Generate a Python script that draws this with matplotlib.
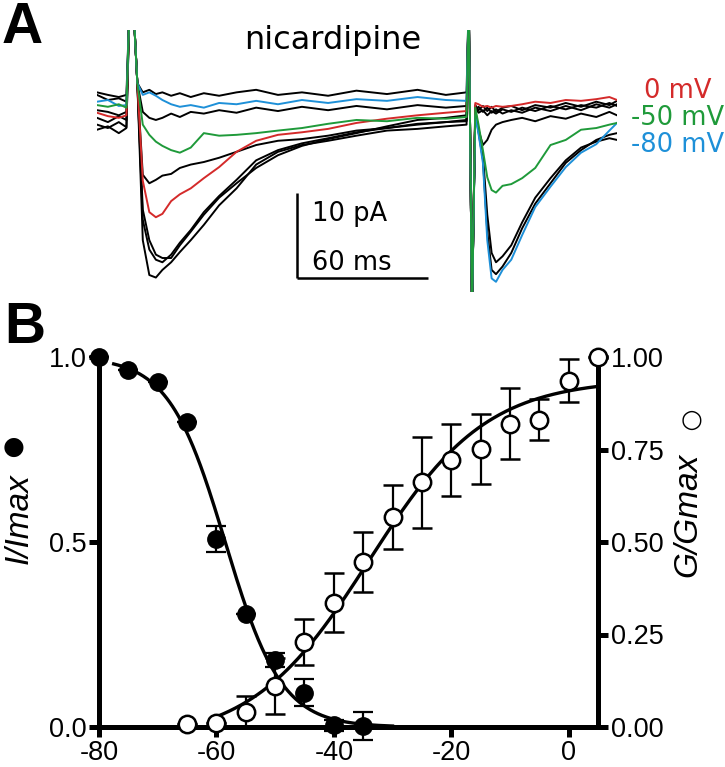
import matplotlib
matplotlib.use("Agg")
import matplotlib.pyplot as plt
import numpy as np

W, H = 725, 767
plt.rcParams['font.family'] = ['DejaVu Sans']
plt.rcParams['axes.unicode_minus'] = False
ARIAL = ['Liberation Sans', 'DejaVu Sans']

# ---------------- Panel A data (time in ms, current in pA) ----------------
T_READ = [0, 5, 10, 13.5,
          21, 24, 27, 30, 34, 38, 43, 49, 56, 64, 73, 83, 94, 106, 119, 133, 147, 160, 169.5,
          173.5, 175, 177, 179, 181, 183, 186, 190, 195, 201, 208, 215, 222, 229, 235, 238.5]

I_M80 = [-0.2, 0.0, -0.7, -0.6,
         0.6, 0.9, 0.5, 0.0, -0.5, -0.8, -0.6, -0.9, -0.35, -0.5, -0.1, -0.5, 0.0, -0.35, 0.1, -0.1, 0.35, 0.0, -0.1,
         -1.8, -4.0, -7.4, -16.5, -21.0, -21.4, -20.0, -18.8, -15.9, -12.6, -10.2, -7.9, -6.2, -5.2, -3.6, -2.7]
I_M70 = [0.9, 0.6, 0.35, 0.6,
         0.9, 1.2, 0.7, 0.9, 0.5, 0.8, 0.35, 0.8, 0.5, 0.9, 1.2, 0.6, 0.9, 0.5, 1.1, 0.7, 1.2, 0.6, 0.9,
         -1.4, -3.8, -7.0, -15.5, -20.0, -20.5, -19.6, -18.0, -15.1, -12.2, -9.8, -7.4, -5.9, -4.7, -4.1, -3.9]
I_M60 = [-1.2, -1.4, -1.8, -1.4,
         -1.4, -2.1, -2.35, -2.1, -1.6, -2.0, -1.4, -1.6, -1.2, -1.5, -0.9, -1.3, -0.8, -1.2, -0.7, -1.1, -0.6, -0.9, -0.7,
         -1.2, -3.5, -6.5, -13.5, -18.0, -19.1, -18.4, -17.1, -14.4, -11.5, -9.2, -7.1, -5.6, -4.9, -4.5, -4.7]
I_M50 = [-0.6, -0.8, -0.5, -0.9,
         -2.9, -4.1, -4.9, -5.4, -5.9, -6.2, -5.6, -3.9, -4.2, -4.1, -3.9, -3.6, -3.3, -2.8, -2.35, -2.5, -2.1, -2.2, -2.0,
         -0.9, -2.9, -5.9, -9.1, -10.6, -10.9, -10.1, -9.9, -9.2, -8.0, -5.3, -4.7, -3.5, -3.3, -2.9, -2.7]
I_M40 = [-2.1, -2.6, -1.9, -2.35,
         -8.8, -9.8, -9.4, -8.9, -8.7, -8.0, -7.6, -7.3, -6.8, -6.1, -5.3, -4.8, -4.6, -4.2, -3.6, -3.3, -2.8, -2.6, -2.5,
         -1.4, -3.5, -5.3, -4.7, -3.5, -2.9, -2.6, -2.35, -2.1, -2.5, -1.9, -2.2, -1.6, -2.0, -1.4, -1.8]
I_M30 = [-2.9, -3.3, -2.6, -3.2,
         -14.1, -17.6, -18.8, -19.1, -18.2, -16.8, -15.3, -13.2, -11.3, -9.4, -7.1, -5.9, -5.1, -4.5, -3.8, -3.3, -2.9, -2.6, -2.35,
         -0.9, -1.5, -1.2, -1.8, -1.3, -1.6, -1.1, -1.4, -0.9, -1.3, -0.7, -1.1, -0.6, -0.9, -0.35, -0.7]
I_M20 = [-3.5, -3.1, -3.9, -3.3,
         -16.5, -20.6, -20.9, -20.0, -19.1, -17.9, -16.5, -14.7, -12.4, -10.4, -7.6, -6.1, -5.3, -4.8, -4.2, -3.6, -3.4, -3.1, -2.9,
         -1.2, -0.8, -1.4, -0.9, -1.5, -1.1, -1.6, -1.2, -1.5, -0.9, -1.3, -0.7, -1.2, -0.5, -0.9, -0.5]
I_M10 = [0.6, 0.0, 0.2, -0.2,
         -12.9, -16.5, -18.2, -18.6, -18.6, -17.1, -15.5, -13.5, -11.5, -9.8, -8.0, -6.5, -5.4, -4.6, -3.9, -3.1, -2.35, -2.1, -1.8,
         -0.6, -1.2, -0.7, -1.3, -0.8, -1.4, -0.9, -0.7, -1.2, -0.6, -0.9, -0.35, -0.8, -0.2, -0.6, -0.1]
I_0 = [-1.5, -1.9, -2.1, -1.8,
       -9.5, -13.2, -13.8, -13.4, -11.9, -11.1, -10.4, -9.2, -7.9, -6.1, -4.8, -4.1, -3.8, -3.4, -2.7, -2.2, -1.8, -1.5, -1.3,
       -0.35, -0.5, -0.8, -0.7, -0.9, -0.7, -0.8, -0.7, -0.5, -0.2, -0.35, 0.0, -0.1, 0.1, 0.35, 0.0]

# stimulus artifacts (go off scale)
ART1_T = [15.0, 16.5, 18.5]
ART1_I = [12.0, 12.0, 2.0]
ART2_T = [170.5, 172.0]
ART2_I = [12.0, -25.0]

BLACK_TRACES = [I_M70, I_M60, I_M40, I_M30, I_M20, I_M10]
RED, GREEN, BLUE = '#d42a2a', '#1f9a3a', '#1e90d8'
COLOR_TRACES = [(I_0, RED), (I_M80, BLUE), (I_M50, GREEN)]
LEGEND_LABELS = ['0 mV', '-50 mV', '-80 mV']
LEGEND_COLORS = [RED, GREEN, BLUE]

SCALE_T0, SCALE_I0 = 91.7, -20.9
SCALE_DT, SCALE_DI = 60.0, 10.0

# ---------------- Panel B data ----------------
V_INACT = [-80, -75, -70, -65, -60, -55, -50, -45, -40, -35]
INACT = [1.0, 0.965, 0.933, 0.825, 0.508, 0.305, 0.181, 0.093, 0.005, 0.003]
INACT_ERR = [0, 0, 0, 0, 0.035, 0, 0.018, 0.036, 0.015, 0.038]

V_ACT = [-65, -60, -55, -50, -45, -40, -35, -30, -25, -20, -15, -10, -5, 0, 5]
ACT = [0.008, 0.012, 0.041, 0.111, 0.23, 0.336, 0.445, 0.568, 0.661, 0.722, 0.751, 0.819, 0.831, 0.936, 1.0]
ACT_ERR = [0, 0, 0.044, 0.075, 0.063, 0.08, 0.081, 0.087, 0.124, 0.097, 0.095, 0.096, 0.055, 0.058, 0]

# Boltzmann fit parameters
INACT_VHALF, INACT_K, INACT_RANGE = -58.5, 4.8, (-77.5, -30.0)
ACT_VHALF, ACT_K, ACT_A, ACT_C, ACT_RANGE = -34.0, 10.0, 0.98, -0.04, (-60.0, 5.0)

X_TICKS = [-80, -60, -40, -20, 0]
YL_TICKS = [0.0, 0.5, 1.0]
YR_TICKS = [0.0, 0.25, 0.5, 0.75, 1.0]

# ---------------- figure ----------------
fig = plt.figure(figsize=(W / 100, H / 100), dpi=100)


def fpos(x, y):
    return x / W, 1 - y / H


def ftext(x, y, s, **kw):
    fx, fy = fpos(x, y)
    fig.text(fx, fy, s, **kw)


# Panel A axes
axA = fig.add_axes([97 / W, 1 - 292 / H, 520 / W, 262 / H])
axA.set_xlim(0, 238.5)
axA.set_ylim(-22.6, 8.24)
axA.axis('off')


def full_trace(vals):
    t = T_READ[:4] + ART1_T + T_READ[4:23] + ART2_T + T_READ[23:]
    v = vals[:4] + ART1_I + vals[4:23] + ART2_I + vals[23:]
    return t, v


for tr in BLACK_TRACES:
    t, v = full_trace(tr)
    axA.plot(t, v, color='black', lw=1.4)
for tr, c in COLOR_TRACES:
    t, v = full_trace(tr)
    axA.plot(t, v, color=c, lw=1.4)

# scale bars
axA.plot([SCALE_T0, SCALE_T0], [SCALE_I0 + SCALE_DI, SCALE_I0], color='black', lw=1.8,
         solid_capstyle='butt', clip_on=False)
axA.plot([SCALE_T0, SCALE_T0 + SCALE_DT], [SCALE_I0, SCALE_I0], color='black', lw=1.8,
         solid_capstyle='butt', clip_on=False)
ftext(312, 221, '10 pA', fontsize=18.5, ha='left', va='baseline')
ftext(312, 270, '60 ms', fontsize=18.5, ha='left', va='baseline')
ftext(333, 49, 'nicardipine', fontsize=23, ha='center', va='baseline')
for lab, col, yb in zip(LEGEND_LABELS, LEGEND_COLORS, [98, 125, 152]):
    ftext(678, yb, lab, fontsize=18.5, color=col, ha='center', va='baseline')

ftext(2, 43, 'A', fontsize=41, fontweight='bold', family=ARIAL, ha='left', va='baseline')
ftext(4, 343, 'B', fontsize=41, fontweight='bold', family=ARIAL, ha='left', va='baseline')

# Panel B axes
axB = fig.add_axes([99 / W, 1 - 727 / H, 499 / W, 370 / H])
axB2 = axB.twinx()
for a in (axB, axB2):
    a.set_xlim(-80, 5)
    a.set_ylim(0, 1)
    a.patch.set_visible(False)
    for s in a.spines.values():
        s.set_linewidth(3.6)
    a.spines['top'].set_visible(False)

axB.spines['right'].set_visible(False)
axB2.spines['left'].set_visible(False)
axB2.spines['bottom'].set_visible(False)

axB.set_xticks(X_TICKS)
axB.set_xticklabels([str(v) for v in X_TICKS], family=ARIAL)
axB.set_yticks(YL_TICKS)
axB.set_yticklabels(['%.1f' % v for v in YL_TICKS], family=ARIAL)
axB2.set_yticks(YR_TICKS)
axB2.set_yticklabels(['%.2f' % v for v in YR_TICKS], family=ARIAL)
axB.tick_params(axis='both', width=3.6, length=7, labelsize=19.5, pad=2)
axB2.tick_params(axis='y', width=3.6, length=7, labelsize=19.5, pad=2)

# fits
vi = np.linspace(*INACT_RANGE, 300)
axB.plot(vi, 1 / (1 + np.exp((vi - INACT_VHALF) / INACT_K)), color='black', lw=2.4, zorder=2)
va = np.linspace(*ACT_RANGE, 300)
axB2.plot(va, ACT_C + ACT_A / (1 + np.exp((ACT_VHALF - va) / ACT_K)), color='black', lw=2.4, zorder=2)

# data
axB.errorbar(V_INACT, INACT, yerr=INACT_ERR, fmt='o', color='black', ms=12.5,
             elinewidth=1.6, capsize=7, capthick=1.6, zorder=3, clip_on=False)
eb = axB2.errorbar(V_ACT, ACT, yerr=ACT_ERR, fmt='o', color='black', mfc='white', mec='black',
                   mew=1.8, ms=12.5, elinewidth=1.6, capsize=7, capthick=1.6, zorder=3, clip_on=False)
for art in eb.get_children():
    art.set_clip_on(False)

# axis titles with symbol keys
ftext(19, 519, 'I/Imax', fontsize=24, style='italic', family=ARIAL, rotation=90,
      ha='center', va='center')
ftext(14, 447, '\u25cf', fontsize=18, family=['DejaVu Sans'], ha='center', va='center')
ftext(688, 515, 'G/Gmax', fontsize=24, style='italic', family=ARIAL, rotation=90,
      ha='center', va='center')
ftext(692, 420, '\u25cb', fontsize=18, family=['DejaVu Sans'], ha='center', va='center')

fig.savefig('out.png', dpi=100)
